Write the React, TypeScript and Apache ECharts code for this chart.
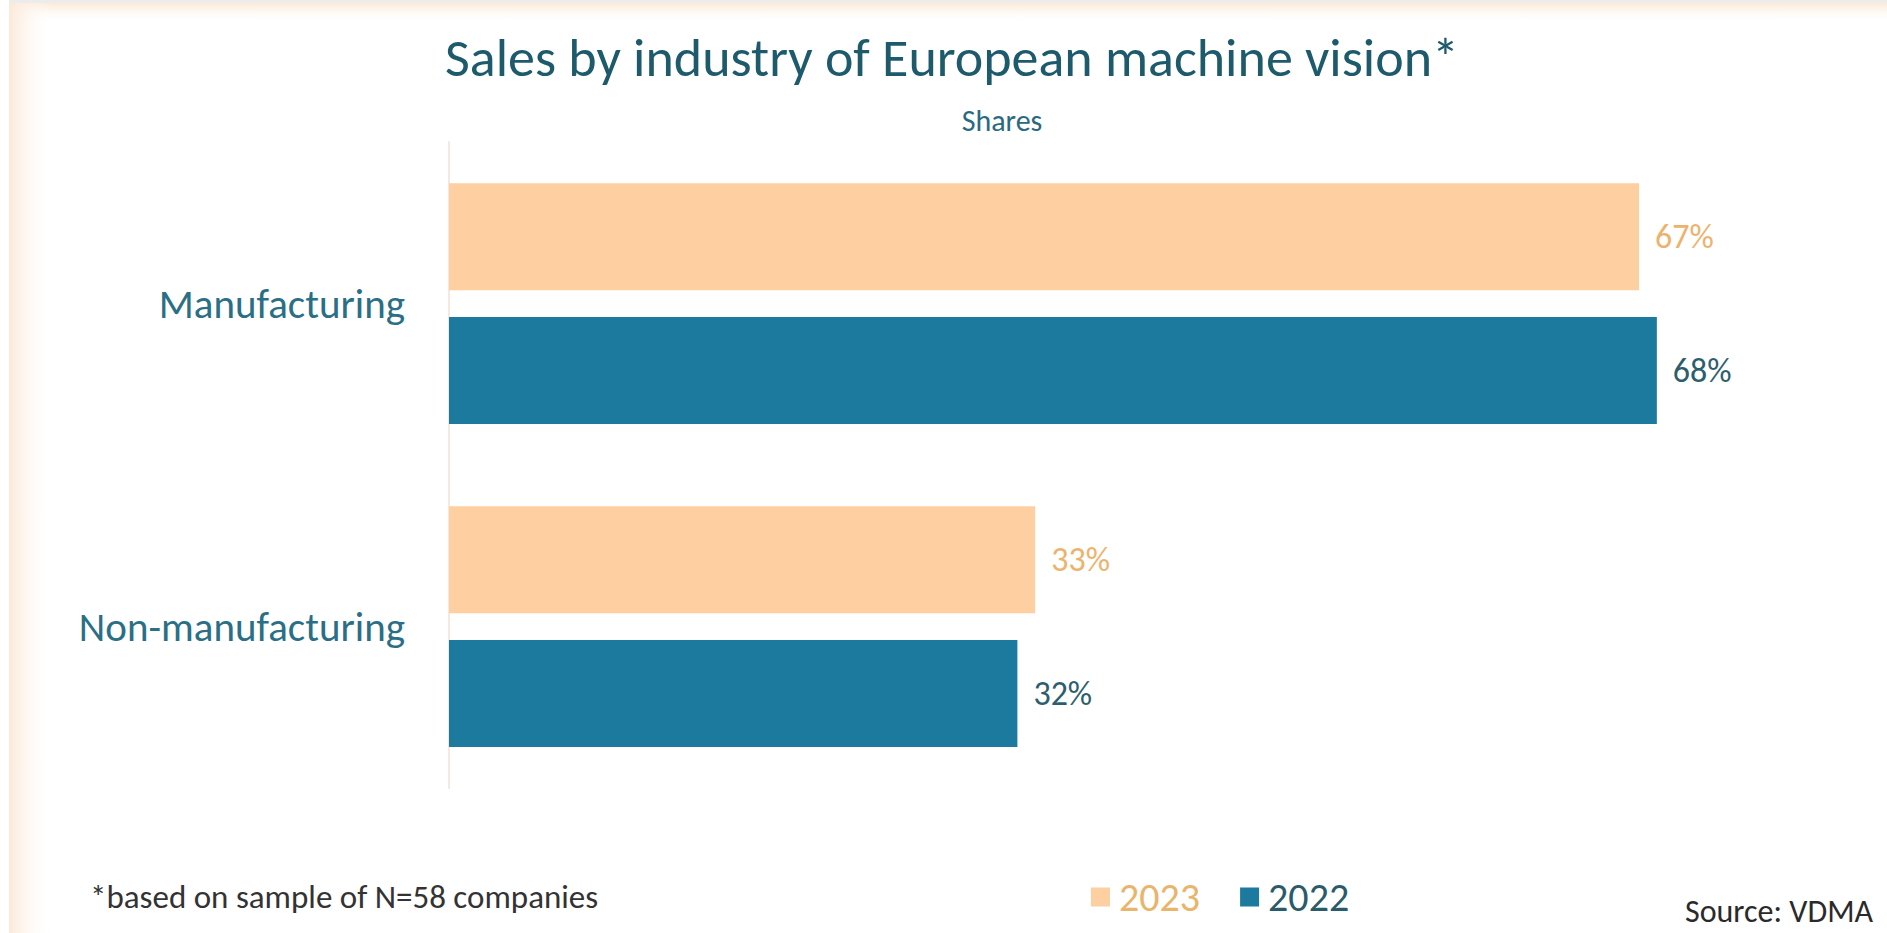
import React, { useEffect, useRef } from "react";
import * as echarts from "echarts";

const categories = ["Manufacturing", "Non-manufacturing"];
const series2023 = [67, 33];
const series2022 = [68, 32];
const legendNames = ["2023", "2022"];

const FONT = "Carlito, Lato, 'Open Sans', sans-serif";

export default function App() {
  const ref = useRef<HTMLDivElement>(null);
  useEffect(() => {
    document.body.style.margin = "0";
    const chart = echarts.init(ref.current!, null, { renderer: "svg" });
    chart.setOption({
      animation: false,
      backgroundColor: "#ffffff",
      textStyle: { fontFamily: FONT },
      graphic: [
        {
          type: "rect",
          shape: { x: 0, y: 3, width: 1887, height: 20 },
          style: {
            fill: new echarts.graphic.LinearGradient(0, 0, 0, 1, [
              { offset: 0, color: "#fce9d8" },
              { offset: 1, color: "rgba(255,255,255,0)" },
            ]),
          },
          silent: true,
        },
        {
          type: "rect",
          shape: { x: 0, y: 0, width: 1887, height: 3 },
          style: { fill: "#ececec" },
          silent: true,
        },
        {
          type: "rect",
          shape: { x: 0, y: 0, width: 9, height: 933 },
          style: { fill: "#ffffff" },
          silent: true,
        },
        {
          type: "rect",
          shape: { x: 9, y: 3, width: 44, height: 930 },
          style: {
            fill: new echarts.graphic.LinearGradient(0, 0, 1, 0, [
              { offset: 0, color: "#fce9d8" },
              { offset: 1, color: "rgba(255,255,255,0)" },
            ]),
          },
          silent: true,
        },
        {
          type: "text",
          x: 952,
          y: 58,
          style: {
            text: "Sales by industry of European machine vision*",
            font: `54px ${FONT}`,
            fill: "#1d5a6c",
            align: "center",
            verticalAlign: "middle",
          },
        },
        {
          type: "text",
          x: 1002,
          y: 120,
          style: {
            text: "Shares",
            font: `30px ${FONT}`,
            fill: "#2a6a80",
            align: "center",
            verticalAlign: "middle",
          },
        },
        {
          type: "text",
          x: 90,
          y: 897,
          style: {
            text: "*based on sample of N=58 companies",
            font: `33px ${FONT}`,
            fill: "#333333",
            align: "left",
            verticalAlign: "middle",
          },
        },
        {
          type: "text",
          x: 1873,
          y: 911,
          style: {
            text: "Source: VDMA",
            font: `32px ${FONT}`,
            fill: "#2a2a2a",
            align: "right",
            verticalAlign: "middle",
          },
        },
      ],
      legend: {
        left: 1086,
        top: 872,
        icon: "rect",
        itemWidth: 19,
        itemHeight: 19,
        itemGap: 40,
        textStyle: { fontSize: 40, fontFamily: FONT, padding: [0, 0, 0, 4] },
        data: [
          { name: legendNames[0], textStyle: { color: "#e9b46c" } },
          { name: legendNames[1], textStyle: { color: "#2a5b6b" } },
        ],
      },
      grid: { left: 449, top: 142, width: 1421, height: 646 },
      xAxis: {
        type: "value",
        min: 0,
        max: 80,
        show: false,
      },
      yAxis: {
        type: "category",
        data: categories,
        inverse: true,
        axisTick: { show: false },
        axisLine: { show: true, lineStyle: { color: "#f4e9de", width: 2 } },
        axisLabel: {
          margin: 44,
          fontSize: 41,
          color: "#2a6f86",
          fontFamily: FONT,
        },
      },
      series: [
        {
          name: legendNames[0],
          type: "bar",
          data: series2023,
          barWidth: 107,
          barGap: "25%",
          itemStyle: { color: "#fdcfa1" },
          label: {
            show: true,
            position: "right",
            distance: 16,
            formatter: "{c}%",
            fontSize: 34,
            color: "#edb36d",
            fontFamily: FONT,
          },
        },
        {
          name: legendNames[1],
          type: "bar",
          data: series2022,
          barWidth: 107,
          barGap: "25%",
          itemStyle: { color: "#1b7a9d" },
          label: {
            show: true,
            position: "right",
            distance: 16,
            formatter: "{c}%",
            fontSize: 34,
            color: "#2d5e6e",
            fontFamily: FONT,
          },
        },
      ],
    });
    return () => chart.dispose();
  }, []);
  return <div ref={ref} style={{ width: 1887, height: 933 }} />;
}
